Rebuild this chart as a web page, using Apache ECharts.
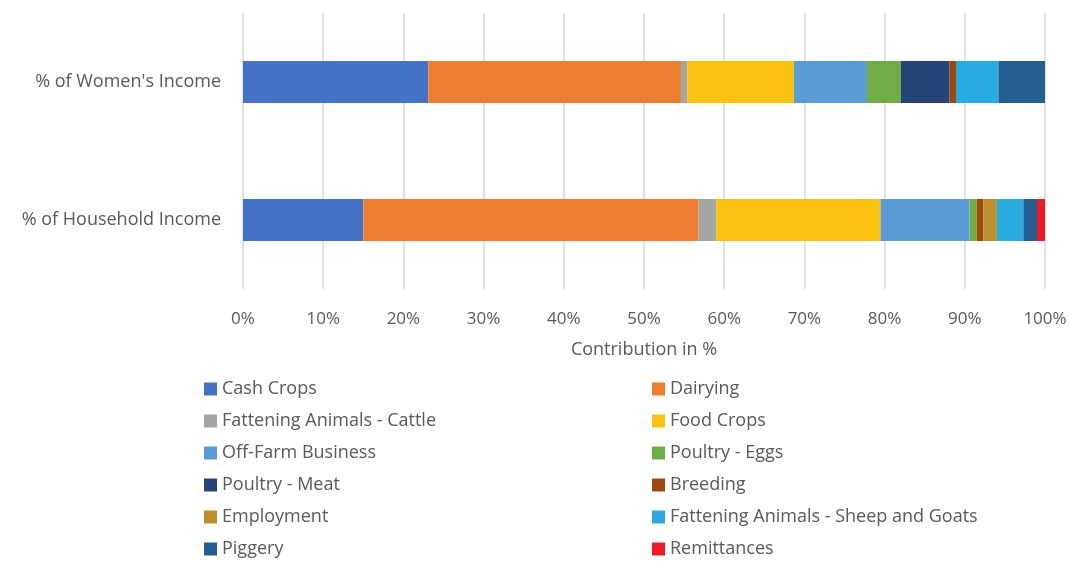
<!DOCTYPE html>
<html><head><meta charset="utf-8">
<script src="https://cdn.jsdelivr.net/npm/echarts@6/dist/echarts.min.js"></script>
<style>html,body{margin:0;padding:0;background:#fff}#c{width:1071px;height:561px}</style>
</head><body><div id="c"></div>
<script>
const categories = ["% of Women's Income", "% of Household Income"];
const seriesNames = ["Cash Crops","Dairying","Fattening Animals - Cattle","Food Crops","Off-Farm Business","Poultry - Eggs","Poultry - Meat","Breeding","Employment","Fattening Animals - Sheep and Goats","Piggery","Remittances"];
const womenValues =     [23.1, 31.5, 0.8, 13.3, 9.1, 4.2, 6.1, 0.8, 0.0, 5.3, 5.8, 0.0];
const householdValues = [15.0, 41.8, 2.2, 20.5, 11.1, 0.9, 0.0, 0.8, 1.7, 3.3, 1.7, 1.1];
const colors = ["#4472C4","#ED7D31","#A5A5A5","#FBC111","#5B9BD5","#70AD47","#264478","#9E480E","#BC8F2E","#29ABE2","#255E91","#ED1C24"];
const xTicks = [0,10,20,30,40,50,60,70,80,90,100];

const font = "Open Sans";
const txt = "#595959";
const chart = echarts.init(document.getElementById('c'));
const series = seriesNames.map((n,i)=>({
  name:n, type:'bar', stack:'total', barWidth:42,
  itemStyle:{color:colors[i]},
  data:[womenValues[i], householdValues[i]]
}));
const legendBase = {orient:'vertical', top:375, height:200, itemWidth:13, itemHeight:13, itemGap:14, icon:'rect',
  textStyle:{color:txt, fontFamily:font, fontSize:18}};
chart.setOption({
  animation:false,
  color:colors,
  grid:{left:243, right:26, top:13, bottom:272, containLabel:false},
  xAxis:{type:'value', min:xTicks[0], max:xTicks[xTicks.length-1], interval:10,
    name:'Contribution in %', nameLocation:'middle', nameGap:52,
    nameTextStyle:{color:txt, fontFamily:font, fontSize:18},
    axisLabel:{formatter:v=>v+'%', color:txt, fontFamily:font, fontSize:17, margin:22},
    axisLine:{show:false}, axisTick:{show:false},
    splitLine:{lineStyle:{color:'#d9d9d9', width:1.5}}},
  yAxis:{type:'category', data:categories, inverse:true,
    axisLine:{show:false}, axisTick:{show:false},
    axisLabel:{color:txt, fontFamily:font, fontSize:18, margin:22}},
  legend:[
    Object.assign({left:199, data:seriesNames.filter((_,i)=>i%2===0)}, legendBase),
    Object.assign({left:647, data:seriesNames.filter((_,i)=>i%2===1)}, legendBase)
  ],
  series:series
});
</script></body></html>
